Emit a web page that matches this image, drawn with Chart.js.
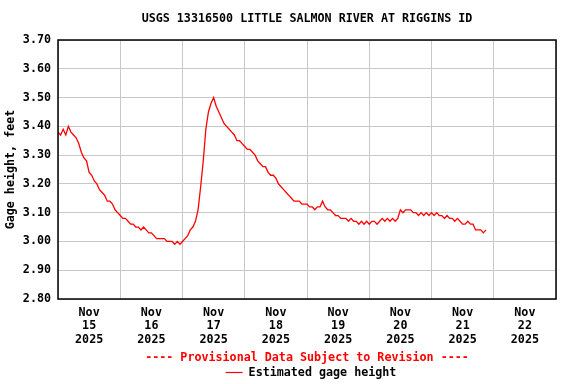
<!DOCTYPE html>
<html>
<head>
<meta charset="utf-8">
<script src="https://cdn.jsdelivr.net/npm/chart.js@4"></script>
<style>
  body { margin: 0; background: #fff; }
  #wrap { width: 576px; height: 384px; }
</style>
</head>
<body>
<div id="wrap"><canvas id="gage" width="576" height="384"></canvas></div>
<script>
// Gage height, feet - hourly readings, one array per day (Nov 15 .. Nov 21)
const nov15 = [3.38, 3.37, 3.39, 3.37, 3.40, 3.38, 3.37, 3.36, 3.34, 3.31, 3.29, 3.28,
               3.24, 3.23, 3.21, 3.20, 3.18, 3.17, 3.16, 3.14, 3.14, 3.13, 3.11, 3.10];
const nov16 = [3.09, 3.08, 3.08, 3.07, 3.06, 3.06, 3.05, 3.05, 3.04, 3.05, 3.04, 3.03,
               3.03, 3.02, 3.01, 3.01, 3.01, 3.01, 3.00, 3.00, 3.00, 2.99, 3.00, 2.99];
const nov17 = [3.00, 3.01, 3.02, 3.04, 3.05, 3.07, 3.11, 3.19, 3.28, 3.39, 3.45, 3.48,
               3.50, 3.47, 3.45, 3.43, 3.41, 3.40, 3.39, 3.38, 3.37, 3.35, 3.35, 3.34];
const nov18 = [3.33, 3.32, 3.32, 3.31, 3.30, 3.28, 3.27, 3.26, 3.26, 3.24, 3.23, 3.23,
               3.22, 3.20, 3.19, 3.18, 3.17, 3.16, 3.15, 3.14, 3.14, 3.14, 3.13, 3.13];
const nov19 = [3.13, 3.12, 3.12, 3.11, 3.12, 3.12, 3.14, 3.12, 3.11, 3.11, 3.10, 3.09,
               3.09, 3.08, 3.08, 3.08, 3.07, 3.08, 3.07, 3.07, 3.06, 3.07, 3.06, 3.07];
const nov20 = [3.06, 3.07, 3.07, 3.06, 3.07, 3.08, 3.07, 3.08, 3.07, 3.08, 3.07, 3.08,
               3.11, 3.10, 3.11, 3.11, 3.11, 3.10, 3.10, 3.09, 3.10, 3.09, 3.10, 3.09];
const nov21 = [3.10, 3.09, 3.10, 3.09, 3.09, 3.08, 3.09, 3.08, 3.08, 3.07, 3.08, 3.07,
               3.06, 3.06, 3.07, 3.06, 3.06, 3.04, 3.04, 3.04, 3.03, 3.04];

const days = [nov15, nov16, nov17, nov18, nov19, nov20, nov21];
const dayLabels = ['15', '16', '17', '18', '19', '20', '21', '22'];
const monthLabel = 'Nov';
const yearLabel = '2025';

const yMin = 2.80;
const yMax = 3.70;
const yStep = 0.10;

const titleText = 'USGS 13316500 LITTLE SALMON RIVER AT RIGGINS ID';
const provisionalText = '---- Provisional Data Subject to Revision ----';
const legendText = 'Estimated gage height';
const yTitle = 'Gage height, feet';

const FONT = '"DejaVu Sans Mono", "Liberation Mono", monospace';

// x = hours since Nov 15 00:00
const points = [];
days.forEach((vals, d) => {
    vals.forEach((v, h) => points.push({ x: d * 24 + h, y: v }));
});

const extras = {
    id: 'extras',
    afterDraw(chart) {
        const ctx = chart.ctx;
        const a = chart.chartArea;
        const cx = (a.left + a.right) / 2;
        ctx.save();
        // frame
        ctx.strokeStyle = '#000';
        ctx.lineWidth = 1.5;
        ctx.strokeRect(a.left, a.top, a.right - a.left, a.bottom - a.top);

        ctx.font = 'bold 11.7px ' + FONT;
        ctx.textBaseline = 'middle';
        ctx.textAlign = 'center';
        ctx.fillStyle = '#000';
        ctx.fillText(titleText, cx, 19);

        ctx.fillStyle = '#ff0000';
        ctx.fillText(provisionalText, cx, 358);

        // legend entry
        const tw = ctx.measureText(legendText).width;
        const lineW = 17, gap = 6;
        const start = cx + 4 - (lineW + gap + tw) / 2;
        ctx.strokeStyle = '#ff0000';
        ctx.lineWidth = 1.2;
        ctx.beginPath();
        ctx.moveTo(start, 372.5);
        ctx.lineTo(start + lineW, 372.5);
        ctx.stroke();
        ctx.fillStyle = '#000';
        ctx.textAlign = 'left';
        ctx.fillText(legendText, start + lineW + gap, 373);
        ctx.restore();
    }
};

new Chart(document.getElementById('gage'), {
    type: 'line',
    data: {
        datasets: [{
            label: legendText,
            data: points,
            borderColor: '#ff0000',
            borderWidth: 1.3,
            pointRadius: 0,
            tension: 0,
            fill: false
        }]
    },
    options: {
        responsive: false,
        devicePixelRatio: 1,
        animation: false,
        layout: { padding: { left: 0, right: 20, top: 40, bottom: 0 } },
        plugins: {
            legend: { display: false },
            title: { display: false },
            tooltip: { enabled: false }
        },
        scales: {
            x: {
                type: 'linear',
                min: 0,
                max: 192,
                afterFit: (s) => { s.height = 85; },
                border: { display: false },
                grid: {
                    drawTicks: false,
                    lineWidth: 1,
                    color: (c) => (c.tick && c.tick.value % 24 === 0) ? '#c8c8c8' : 'rgba(0,0,0,0)'
                },
                ticks: {
                    stepSize: 12,
                    autoSkip: false,
                    maxRotation: 0,
                    padding: 7,
                    color: '#000',
                    font: { family: FONT, size: 11.7, weight: 'bold', lineHeight: 1.16 },
                    callback: (v) => {
                        if (v % 24 !== 12) return '';
                        return [monthLabel, dayLabels[(v - 12) / 24], yearLabel];
                    }
                }
            },
            y: {
                min: yMin,
                max: yMax,
                afterFit: (s) => { s.width = 58; },
                border: { display: false },
                grid: { drawTicks: false, color: '#c8c8c8', lineWidth: 1 },
                ticks: {
                    stepSize: yStep,
                    padding: 7,
                    color: '#000',
                    font: { family: FONT, size: 11.7, weight: 'bold' },
                    callback: (v) => v.toFixed(2)
                },
                title: {
                    display: true,
                    text: yTitle,
                    color: '#000',
                    padding: { top: 4, bottom: 4 },
                    font: { family: FONT, size: 11.7, weight: 'bold' }
                }
            }
        }
    },
    plugins: [extras]
});
</script>
</body>
</html>
